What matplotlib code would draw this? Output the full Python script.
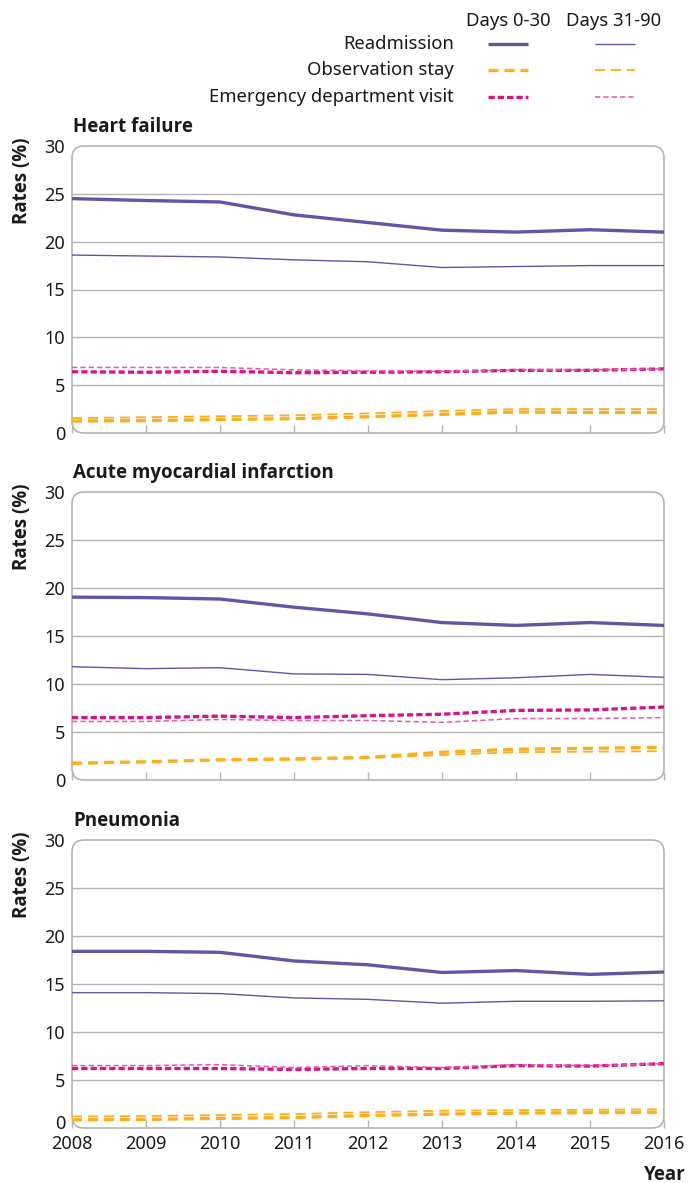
import matplotlib
matplotlib.use('Agg')
import matplotlib.pyplot as plt
import matplotlib.transforms as mtransforms
from matplotlib.patches import FancyBboxPatch
from matplotlib.lines import Line2D

plt.rcParams['font.family'] = ['Noto Sans', 'DejaVu Sans']
plt.rcParams['lines.scale_dashes'] = False
BOLD = ['Open Sans', 'DejaVu Sans']

years = [2008, 2009, 2010, 2011, 2012, 2013, 2014, 2015, 2016]
titles = ['Heart failure', 'Acute myocardial infarction', 'Pneumonia']

# heart failure
hf_readm_030 = [24.5, 24.3, 24.15, 22.8, 22.0, 21.2, 21.0, 21.25, 21.0]
hf_readm_3190 = [18.6, 18.5, 18.4, 18.1, 17.9, 17.3, 17.4, 17.5, 17.5]
hf_obs_030 = [1.25, 1.3, 1.4, 1.5, 1.7, 1.95, 2.2, 2.15, 2.15]
hf_obs_3190 = [1.55, 1.65, 1.75, 1.85, 2.05, 2.3, 2.5, 2.5, 2.5]
hf_ed_030 = [6.4, 6.35, 6.45, 6.3, 6.35, 6.4, 6.55, 6.55, 6.7]
hf_ed_3190 = [6.85, 6.85, 6.85, 6.6, 6.5, 6.45, 6.6, 6.6, 6.7]

# acute myocardial infarction
ami_readm_030 = [19.05, 19.0, 18.85, 18.0, 17.3, 16.4, 16.1, 16.4, 16.1]
ami_readm_3190 = [11.8, 11.6, 11.7, 11.05, 11.0, 10.45, 10.65, 11.0, 10.7]
ami_obs_030 = [1.75, 1.9, 2.1, 2.2, 2.35, 2.9, 3.2, 3.3, 3.4]
ami_obs_3190 = [1.7, 1.85, 2.1, 2.1, 2.3, 2.6, 2.9, 2.95, 3.0]
ami_ed_030 = [6.5, 6.5, 6.65, 6.5, 6.7, 6.85, 7.25, 7.3, 7.6]
ami_ed_3190 = [6.1, 6.1, 6.3, 6.2, 6.2, 6.0, 6.4, 6.4, 6.5]

# pneumonia
pn_readm_030 = [18.4, 18.4, 18.3, 17.4, 17.0, 16.2, 16.4, 16.0, 16.25]
pn_readm_3190 = [14.1, 14.1, 14.0, 13.55, 13.4, 13.0, 13.2, 13.2, 13.25]
pn_obs_030 = [0.85, 0.9, 1.0, 1.1, 1.3, 1.45, 1.55, 1.6, 1.65]
pn_obs_3190 = [1.2, 1.25, 1.35, 1.45, 1.65, 1.8, 1.85, 1.9, 1.95]
pn_ed_030 = [6.2, 6.2, 6.2, 6.1, 6.2, 6.2, 6.5, 6.45, 6.7]
pn_ed_3190 = [6.5, 6.5, 6.6, 6.3, 6.5, 6.3, 6.6, 6.5, 6.7]

panels = [
    (hf_readm_030, hf_readm_3190, hf_obs_030, hf_obs_3190, hf_ed_030, hf_ed_3190),
    (ami_readm_030, ami_readm_3190, ami_obs_030, ami_obs_3190, ami_ed_030, ami_ed_3190),
    (pn_readm_030, pn_readm_3190, pn_obs_030, pn_obs_3190, pn_ed_030, pn_ed_3190),
]

PURPLE = '#6553a6'
ORANGE = '#fcaf1c'
MAGENTA = '#d5168b'
PINK = '#e25aa9'
GRID = '#b4b4b4'
TXT = '#1a1a1a'

styles = [
    dict(color=PURPLE, lw=2.4, ls='-'),
    dict(color=PURPLE, lw=1.0, ls='-'),
    dict(color=ORANGE, lw=2.4, dashes=(7.2, 4.3)),
    dict(color=ORANGE, lw=1.3, dashes=(7.2, 4.3)),
    dict(color=MAGENTA, lw=2.4, dashes=(4.5, 2.2)),
    dict(color=PINK, lw=1.1, dashes=(3.8, 2.2)),
]
draw_order = [2, 3, 4, 5, 1, 0]

W, H = 688, 1183
fig = plt.figure(figsize=(W / 100, H / 100), dpi=100)

ax_left, ax_right = 72, 664
tops = [146, 492, 840]
bottoms = [433, 780, 1128]

for i, series in enumerate(panels):
    top, bot = tops[i], bottoms[i]
    ax = fig.add_axes([ax_left / W, 1 - bot / H, (ax_right - ax_left) / W, (bot - top) / H])
    for j in draw_order:
        ax.plot(years, series[j], solid_capstyle='butt', dash_capstyle='butt', zorder=3, **styles[j])
    ax.set_xlim(2008, 2016)
    ax.set_ylim(0, 30)
    for v in [5, 10, 15, 20, 25]:
        ax.axhline(v, color=GRID, lw=1.0, zorder=1)
    for s in ax.spines.values():
        s.set_visible(False)
    aw = ax_right - ax_left
    ah = bot - top
    box = FancyBboxPatch((0, 0), 1, 1, boxstyle='round,pad=0,rounding_size=%f' % (12 / aw),
                         mutation_aspect=aw / ah, transform=ax.transAxes,
                         fill=False, edgecolor=GRID, lw=1.2, clip_on=False, zorder=2)
    ax.add_patch(box)
    ax.set_yticks([0, 5, 10, 15, 20, 25, 30])
    ax.tick_params(axis='y', length=0, pad=5, labelsize=13, labelcolor=TXT)
    ax.set_xticks(years)
    ax.tick_params(axis='x', direction='in', length=6, color=GRID, width=1.0,
                   pad=5, labelsize=13, labelcolor=TXT)
    if i < 2:
        ax.set_xticklabels([])
    else:
        # lift the bottom "0" clear of the year labels
        lab0 = ax.get_yticklabels()[0]
        lab0.set_transform(lab0.get_transform() +
                           mtransforms.ScaledTranslation(0, 6 / 100, fig.dpi_scale_trans))
    ax.text(0.002, 1.03, titles[i], transform=ax.transAxes, fontsize=13.5, fontweight='bold',
            family=BOLD, ha='left', va='bottom', color=TXT)
    fig.text(22 / W, 1 - (top + 35) / H, 'Rates (%)', rotation=90, ha='center', va='center',
             fontsize=13.5, fontweight='bold', family=BOLD, color=TXT)

fig.text(686 / W, 1 - 1175 / H, 'Year', ha='right', va='center', fontsize=13.5,
         fontweight='bold', family=BOLD, color=TXT)

# legend drawn on a pixel overlay
lg = fig.add_axes([0, 0, 1, 1], facecolor='none')
lg.set_xlim(0, W)
lg.set_ylim(H, 0)
lg.axis('off')
lg.text(508, 21, 'Days 0-30', ha='center', va='center', fontsize=13.3, color=TXT)
lg.text(614, 21, 'Days 31-90', ha='center', va='center', fontsize=13.3, color=TXT)
row_names = ['Readmission', 'Observation stay', 'Emergency department visit']
row_y = [44, 70, 97]
for r, (name, y) in enumerate(zip(row_names, row_y)):
    lg.text(454, y, name, ha='right', va='center', fontsize=13.3, color=TXT)
    lg.add_line(Line2D([488, 528], [y, y], solid_capstyle='butt', dash_capstyle='butt', **styles[2 * r]))
    lg.add_line(Line2D([595, 635], [y, y], solid_capstyle='butt', dash_capstyle='butt', **styles[2 * r + 1]))

fig.savefig('out.png', dpi=100)
